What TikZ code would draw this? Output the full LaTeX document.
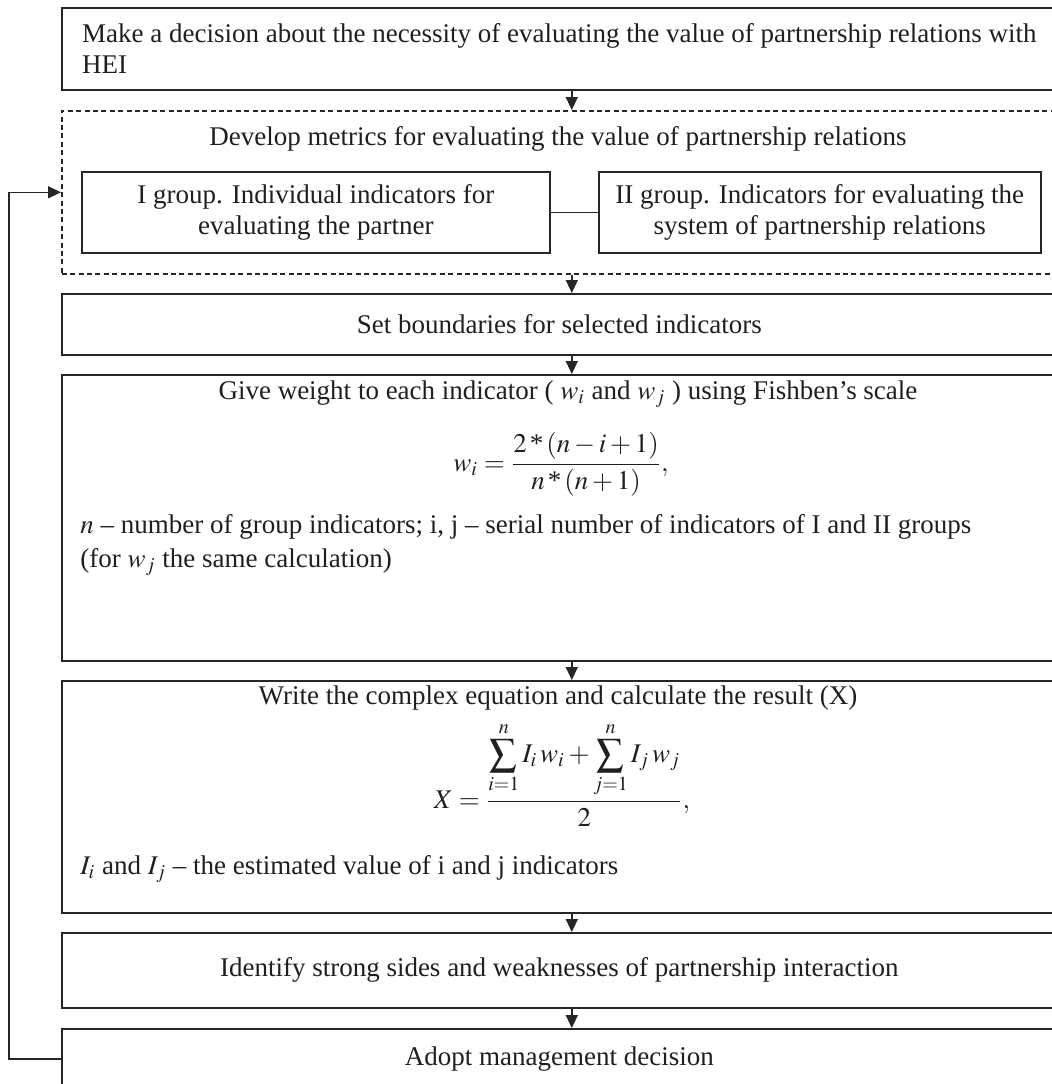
\documentclass[tikz,border=0pt]{standalone}
\usepackage{amsmath}
\usepackage{mathptmx}
\usepackage{fontspec}
\setmainfont{Liberation Serif}
\usetikzlibrary{arrows.meta,positioning,calc}
\newcommand\boxfont{\fontsize{13.5}{15.5}\selectfont}

\begin{document}
\begin{tikzpicture}[
  x=0.5pt, y=-0.5pt,
  box/.style={draw=black!85, line width=0.8pt, minimum width=497.5pt, inner sep=0pt, align=center, font=\boxfont, text=black!88},
  txt/.style={inner sep=0pt, font=\boxfont, text=black!88},
  arr/.style={-{Triangle[length=6.5pt, width=6pt]}, draw=black!85, line width=0.7pt},
  link/.style={draw=black!85, line width=0.7pt},
]
  \useasboundingbox (0,0) rectangle (1052,1084);
  \clip (0,0) rectangle (1052,1084);

  \node[box, align=left, anchor=north west, minimum height=41pt] (decide) at (61,7) {Make a decision about the necessity of evaluating the value of partnership relations with\\HEI};

  \node[box, dashed, dash pattern=on 2.5pt off 1.7pt, anchor=north west, minimum height=81.5pt] (metrics) at (61,110) {};
  \node[txt, anchor=base] (metricstitle) at (558,145) {Develop metrics for evaluating the value of partnership relations};
  \node[box, anchor=north west, minimum width=234pt, minimum height=40.5pt] (grpone) at (81,171) {I group. Individual indicators for\\evaluating the partner};
  \node[box, anchor=north west, minimum width=221pt, minimum height=40.5pt] (grptwo) at (598,171) {II group. Indicators for evaluating the\\system of partnership relations};

  \node[box, anchor=north west, minimum height=30.5pt] (bounds) at (61,293) {Set boundaries for selected indicators};

  \node[box, anchor=north west, minimum height=143pt] (weight) at (61,374) {};
  \node[txt, anchor=base] (weighttitle) at (568,399) {Give weight to each indicator ( $w_i$ and $w_j$ ) using Fishben’s scale};
  \node[txt, anchor=base] (weighteq) at (561,471) {$\displaystyle w_i=\frac{2\,\text{*}\,(n-i+1)}{n\,\text{*}\,(n+1)},$};
  \node[txt, anchor=north west, align=left] (weightnote) at (80,514) {$n$ – number of group indicators; i, j – serial number of indicators of I and II groups\\[1.5pt](for $w_j$ the same calculation)};

  \node[box, anchor=north west, minimum height=116pt] (result) at (61,680) {};
  \node[txt, anchor=base] (resulttitle) at (558,704) {Write the complex equation and calculate the result (X)};
  \node[txt, anchor=base] (resulteq) at (562,808) {$\displaystyle X=\frac{\displaystyle\sum\limits_{i=1}^{n} I_i\,w_i+\sum\limits_{j=1}^{n} I_j\,w_j}{2},$};
  \node[txt, anchor=base west] (resultnote) at (80,874) {$I_i$ and $I_j$ – the estimated value of i and j indicators};

  \node[box, anchor=north west, minimum height=37.5pt] (strengths) at (61,932) {Identify strong sides and weaknesses of partnership interaction};
  \node[box, anchor=north west, minimum height=30pt] (adopt) at (61,1028) {Adopt management decision};

  \draw[link] (grpone) -- (grptwo);
  \draw[arr] ([xshift=6.25pt]decide.south) -- ([xshift=6.25pt]metrics.north);
  \draw[arr] ([xshift=6.25pt]metrics.south) -- ([xshift=6.25pt]bounds.north);
  \draw[arr] ([xshift=6.25pt]bounds.south) -- ([xshift=6.25pt]weight.north);
  \draw[arr] ([xshift=6.25pt]weight.south) -- ([xshift=6.25pt]result.north);
  \draw[arr] ([xshift=6.25pt]result.south) -- ([xshift=6.25pt]strengths.north);
  \draw[arr] ([xshift=6.25pt]strengths.south) -- ([xshift=6.25pt]adopt.north);
  \draw[arr] (adopt.west) -- ++(-52,0) |- (metrics.west);
\end{tikzpicture}
\end{document}
